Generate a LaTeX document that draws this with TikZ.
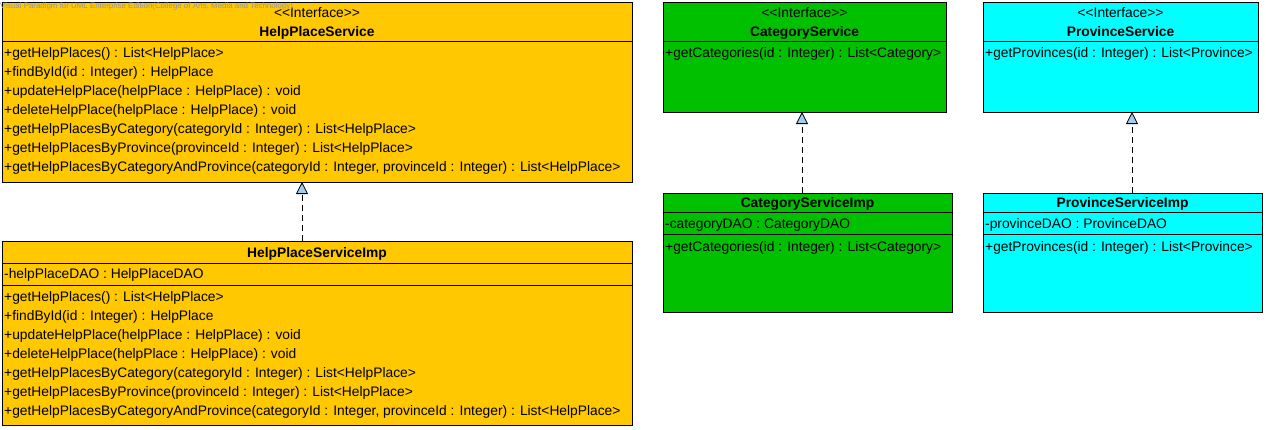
\documentclass[tikz,border=0pt]{standalone}
\usepackage{fontspec}
\setmainfont{Liberation Sans}
\usetikzlibrary{arrows.meta}
\definecolor{vporange}{RGB}{255,200,0}
\definecolor{vpgreen}{RGB}{0,192,0}
\definecolor{vpcyan}{RGB}{0,255,255}
\definecolor{arrowblue}{RGB}{160,205,240}
\definecolor{wmgray}{RGB}{150,150,150}
\begin{document}
\begin{tikzpicture}[x=1pt,y=-1pt,
  box/.style={draw=black, line width=1pt, anchor=north west, inner sep=0pt, outer sep=0pt},
  txt/.style={anchor=base west, inner sep=0pt, font=\fontsize{13.8}{16}\selectfont},
  ttl/.style={anchor=base, inner sep=0pt, font=\fontsize{13.8}{16}\selectfont\bfseries},
  ster/.style={anchor=base, inner sep=0pt, font=\fontsize{13.8}{16}\selectfont},
  sepline/.style={line width=1pt},
  realize/.style={line width=1pt, dash pattern=on 6pt off 4pt,
    -{Triangle[length=12pt, width=12pt, fill=arrowblue, line width=0.8pt]}}
]
\useasboundingbox (0,0) rectangle (1266,429);

% ---------- HelpPlaceService ----------
\node[box, fill=vporange, minimum width=630pt, minimum height=180pt] (hps) at (2,2) {};
\node[ster] (hpsster) at (317,17) {<{}<Interface>{}>};
\node[ttl] (hpsname) at (317,36) {HelpPlaceService};
\draw[sepline] ([yshift=-39pt]hps.north west) -- ([yshift=-39pt]hps.north east);
\foreach \t [count=\i] in {%
  {+getHelpPlaces() : List<HelpPlace>},
  {+findById(id : Integer) : HelpPlace},
  {+updateHelpPlace(helpPlace : HelpPlace) : void},
  {+deleteHelpPlace(helpPlace : HelpPlace) : void},
  {+getHelpPlacesByCategory(categoryId : Integer) : List<HelpPlace>},
  {+getHelpPlacesByProvince(provinceId : Integer) : List<HelpPlace>},
  {+getHelpPlacesByCategoryAndProvince(categoryId : Integer, provinceId : Integer) : List<HelpPlace>}}
  \node[txt] (hpsop\i) at (4,{57+19*(\i-1)}) {\t};

% ---------- HelpPlaceServiceImp ----------
\node[box, fill=vporange, minimum width=630pt, minimum height=184pt] (hpsi) at (2,241) {};
\node[ttl] (hpsiname) at (317,257) {HelpPlaceServiceImp};
\draw[sepline] ([yshift=-22pt]hpsi.north west) -- ([yshift=-22pt]hpsi.north east);
\node[txt] (hpsiattr) at (4,278) {-helpPlaceDAO : HelpPlaceDAO};
\draw[sepline] ([yshift=-44pt]hpsi.north west) -- ([yshift=-44pt]hpsi.north east);
\foreach \t [count=\i] in {%
  {+getHelpPlaces() : List<HelpPlace>},
  {+findById(id : Integer) : HelpPlace},
  {+updateHelpPlace(helpPlace : HelpPlace) : void},
  {+deleteHelpPlace(helpPlace : HelpPlace) : void},
  {+getHelpPlacesByCategory(categoryId : Integer) : List<HelpPlace>},
  {+getHelpPlacesByProvince(provinceId : Integer) : List<HelpPlace>},
  {+getHelpPlacesByCategoryAndProvince(categoryId : Integer, provinceId : Integer) : List<HelpPlace>}}
  \node[txt] (hpsiop\i) at (4,{301+19*(\i-1)}) {\t};

% ---------- CategoryService ----------
\node[box, fill=vpgreen, minimum width=283pt, minimum height=110pt] (cs) at (663,2) {};
\node[ster] (csster) at (804.5,17) {<{}<Interface>{}>};
\node[ttl] (csname) at (804.5,36) {CategoryService};
\draw[sepline] ([yshift=-39pt]cs.north west) -- ([yshift=-39pt]cs.north east);
\node[txt] (csop1) at (665,57) {+getCategories(id : Integer) : List<Category>};

% ---------- CategoryServiceImp ----------
\node[box, fill=vpgreen, minimum width=289pt, minimum height=119pt] (csi) at (663,193) {};
\node[ttl] (csiname) at (807.5,207) {CategoryServiceImp};
\draw[sepline] ([yshift=-19pt]csi.north west) -- ([yshift=-19pt]csi.north east);
\node[txt] (csiattr) at (665,228) {-categoryDAO : CategoryDAO};
\draw[sepline] ([yshift=-41pt]csi.north west) -- ([yshift=-41pt]csi.north east);
\node[txt] (csiop1) at (665,251) {+getCategories(id : Integer) : List<Category>};

% ---------- ProvinceService ----------
\node[box, fill=vpcyan, minimum width=275pt, minimum height=110pt] (ps) at (983,2) {};
\node[ster] (psster) at (1120.5,17) {<{}<Interface>{}>};
\node[ttl] (psname) at (1120.5,36) {ProvinceService};
\draw[sepline] ([yshift=-39pt]ps.north west) -- ([yshift=-39pt]ps.north east);
\node[txt] (psop1) at (985,57) {+getProvinces(id : Integer) : List<Province>};

% ---------- ProvinceServiceImp ----------
\node[box, fill=vpcyan, minimum width=279pt, minimum height=119pt] (psi) at (983,193) {};
\node[ttl] (psiname) at (1122.5,207) {ProvinceServiceImp};
\draw[sepline] ([yshift=-19pt]psi.north west) -- ([yshift=-19pt]psi.north east);
\node[txt] (psiattr) at (985,228) {-provinceDAO : ProvinceDAO};
\draw[sepline] ([yshift=-41pt]psi.north west) -- ([yshift=-41pt]psi.north east);
\node[txt] (psiop1) at (985,251) {+getProvinces(id : Integer) : List<Province>};

% ---------- realizations ----------
\draw[realize] ([xshift=300pt]hpsi.north west) -- ([xshift=300pt]hps.south west);
\draw[realize] ([xshift=139pt]csi.north west) -- ([xshift=139pt]cs.south west);
\draw[realize] ([xshift=149pt]psi.north west) -- ([xshift=149pt]ps.south west);

% ---------- watermark ----------
\node[anchor=base west, inner sep=0pt, text=wmgray, font=\fontsize{7.9}{8}\selectfont] (wm) at (0,8)
  {Visual Paradigm for UML Enterprise Edition(College of Arts, Media and Technology)};
\end{tikzpicture}
\end{document}
